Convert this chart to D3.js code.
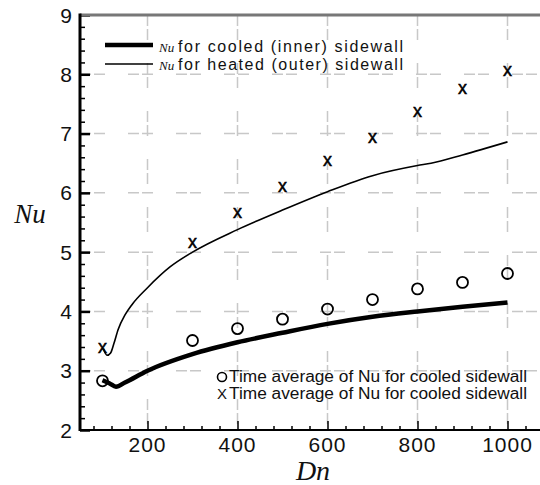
<!DOCTYPE html>
<html>
<head>
<meta charset="utf-8">
<script src="https://cdn.jsdelivr.net/npm/d3@7"></script>
<style>
  body { margin: 0; background: #fff; }
  svg { display: block; }
  .tick-label { font-family: "Liberation Sans", Arial, sans-serif; font-size: 21px; fill: #111; }
  .axis-title { font-family: "Liberation Serif", "Times New Roman", serif; font-style: italic; fill: #111; }
  .legend { font-family: "Liberation Sans", Arial, sans-serif; fill: #111; }
</style>
</head>
<body>
<script>
// Nu along the cooled (inner) sidewall, solid thick line
var cooledDn = [100, 115, 130, 150, 200, 300, 400, 500, 600, 700, 800, 900, 1000];
var cooledNu = [2.84, 2.79, 2.73, 2.8, 3.0, 3.28, 3.48, 3.64, 3.79, 3.91, 4.0, 4.08, 4.15];

// Nu along the heated (outer) sidewall, thin line
var heatedDn = [102, 110, 118, 125, 135, 150, 165, 200, 250, 300, 400, 500, 600, 700, 800, 830, 900, 1000];
var heatedNu = [3.37, 3.26, 3.3, 3.45, 3.7, 3.94, 4.11, 4.4, 4.75, 5.0, 5.38, 5.71, 6.02, 6.29, 6.46, 6.5, 6.64, 6.86];

// time averages (symbols)
var avgDn = [100, 300, 400, 500, 600, 700, 800, 900, 1000];
var avgCooled = [2.83, 3.51, 3.71, 3.87, 4.04, 4.2, 4.38, 4.49, 4.64];
var avgHeated = [3.38, 5.16, 5.66, 6.1, 6.54, 6.92, 7.37, 7.76, 8.06];

var xTicks = [200, 400, 600, 800, 1000];
var yTicks = [2, 3, 4, 5, 6, 7, 8, 9];

var width = 540, height = 485;
var svg = d3.select('body').append('svg')
    .attr('width', width)
    .attr('height', height);

var x = d3.scaleLinear().domain([50, 1100]).range([80, 552.5]);
var y = d3.scaleLinear().domain([2, 9]).range([430, 15]);

// grid
var grid = svg.append('g')
    .attr('stroke', '#c8c8c8')
    .attr('stroke-width', 1.5)
    .attr('stroke-dasharray', '11,3,11,23');

grid.selectAll('line.v')
    .data(xTicks)
    .enter().append('line')
    .attr('x1', function(d) { return x(d); })
    .attr('x2', function(d) { return x(d); })
    .attr('y1', y(9))
    .attr('y2', y(2));

grid.selectAll('line.h')
    .data(yTicks.filter(function(d) { return d > 2 && d < 9; }))
    .enter().append('line')
    .attr('x1', x(50))
    .attr('x2', width)
    .attr('y1', function(d) { return y(d); })
    .attr('y2', function(d) { return y(d); });

// axes (ticks drawn inward)
var xAxis = d3.axisTop(x)
    .tickValues(d3.range(80, 1100, 40))
    .tickSize(4)
    .tickFormat('');
var xg = svg.append('g')
    .attr('transform', 'translate(0,' + y(2) + ')')
    .call(xAxis);
xg.selectAll('.tick line')
    .attr('stroke-width', 1.5)
    .attr('y2', function(d) { return d % 200 === 0 ? -9 : -4; });
xg.select('.domain').remove();

var yAxis = d3.axisRight(y)
    .tickValues(d3.range(2, 9.01, 0.2))
    .tickSize(5)
    .tickFormat('');
var yg = svg.append('g')
    .attr('transform', 'translate(' + x(50) + ',0)')
    .call(yAxis);
yg.selectAll('.tick line')
    .attr('stroke-width', function(d) { return Math.abs(d - Math.round(d)) < 0.01 ? 2.5 : 1.5; })
    .attr('x2', function(d) { return Math.abs(d - Math.round(d)) < 0.01 ? 10 : 5; });
yg.select('.domain').remove();

// frame
svg.append('line')
    .attr('x1', x(50)).attr('x2', width)
    .attr('y1', y(9)).attr('y2', y(9))
    .attr('stroke', '#777').attr('stroke-width', 3);
svg.append('line')
    .attr('x1', x(50)).attr('x2', width)
    .attr('y1', y(2)).attr('y2', y(2))
    .attr('stroke', '#000').attr('stroke-width', 2);
svg.append('line')
    .attr('x1', x(50)).attr('x2', x(50))
    .attr('y1', y(9) - 1.5).attr('y2', y(2) + 1)
    .attr('stroke', '#000').attr('stroke-width', 3);

// tick labels
svg.selectAll('text.ylab')
    .data(yTicks)
    .enter().append('text')
    .attr('class', 'tick-label')
    .attr('x', 72)
    .attr('y', function(d) { return y(d) + 7.5; })
    .attr('text-anchor', 'end')
    .text(function(d) { return d; });

svg.selectAll('text.xlab')
    .data(xTicks)
    .enter().append('text')
    .attr('class', 'tick-label')
    .attr('x', function(d) { return x(d); })
    .attr('y', 452)
    .attr('text-anchor', 'middle')
    .attr('letter-spacing', 1)
    .text(function(d) { return d; });

// axis titles
svg.append('text')
    .attr('class', 'axis-title')
    .attr('x', 30).attr('y', 223)
    .attr('text-anchor', 'middle')
    .attr('font-size', 27)
    .text('Nu');
svg.append('text')
    .attr('class', 'axis-title')
    .attr('x', 313).attr('y', 480)
    .attr('text-anchor', 'middle')
    .attr('font-size', 28)
    .text('Dn');

// curves
var line = d3.line()
    .x(function(d) { return x(d[0]); })
    .y(function(d) { return y(d[1]); })
    .curve(d3.curveMonotoneX);

svg.append('path')
    .datum(d3.zip(heatedDn, heatedNu))
    .attr('fill', 'none')
    .attr('stroke', '#000')
    .attr('stroke-width', 1.6)
    .attr('d', line);

svg.append('path')
    .datum(d3.zip(cooledDn, cooledNu))
    .attr('fill', 'none')
    .attr('stroke', '#000')
    .attr('stroke-width', 4.5)
    .attr('d', line);

// symbols
svg.selectAll('circle.avg')
    .data(d3.zip(avgDn, avgCooled))
    .enter().append('circle')
    .attr('cx', function(d) { return x(d[0]); })
    .attr('cy', function(d) { return y(d[1]); })
    .attr('r', 5.5)
    .attr('fill', 'none')
    .attr('stroke', '#000')
    .attr('stroke-width', 1.8);

svg.selectAll('text.xm')
    .data(d3.zip(avgDn, avgHeated))
    .enter().append('text')
    .attr('x', function(d) { return x(d[0]); })
    .attr('y', function(d) { return y(d[1]) + 5; })
    .attr('text-anchor', 'middle')
    .attr('font-family', 'Liberation Sans, Arial, sans-serif')
    .attr('font-size', 18)
    .attr('stroke', '#000')
    .attr('stroke-width', 0.5)
    .text('x');

// top legend
var leg = svg.append('g');
leg.append('line')
    .attr('x1', 105).attr('x2', 153).attr('y1', 45).attr('y2', 45)
    .attr('stroke', '#000').attr('stroke-width', 4.5);
leg.append('line')
    .attr('x1', 105).attr('x2', 153).attr('y1', 64).attr('y2', 64)
    .attr('stroke', '#000').attr('stroke-width', 1.6);

var legText = ['for cooled (inner) sidewall', 'for heated (outer) sidewall'];
legText.forEach(function(t, i) {
  var ty = 52 + i * 18;
  leg.append('text')
      .attr('class', 'axis-title')
      .attr('x', 159).attr('y', ty)
      .attr('font-size', 13)
      .text('Nu');
  leg.append('text')
      .attr('class', 'legend')
      .attr('x', 178).attr('y', ty)
      .attr('font-size', 16)
      .attr('textLength', 225)
      .text(t);
});

// bottom legend
var leg2 = svg.append('g');
leg2.append('circle')
    .attr('cx', 222).attr('cy', 377)
    .attr('r', 4.5)
    .attr('fill', 'none').attr('stroke', '#000').attr('stroke-width', 1.6);
leg2.append('text')
    .attr('class', 'legend')
    .attr('x', 222).attr('y', 399)
    .attr('text-anchor', 'middle')
    .attr('font-size', 15)
    .text('X');
['Time average of Nu for cooled sidewall', 'Time average of Nu for cooled sidewall'].forEach(function(t, i) {
  leg2.append('text')
      .attr('class', 'legend')
      .attr('x', 229).attr('y', 382 + i * 17)
      .attr('font-size', 16)
      .attr('textLength', 298)
      .attr('lengthAdjust', 'spacingAndGlyphs')
      .text(t);
});
</script>
</body>
</html>
